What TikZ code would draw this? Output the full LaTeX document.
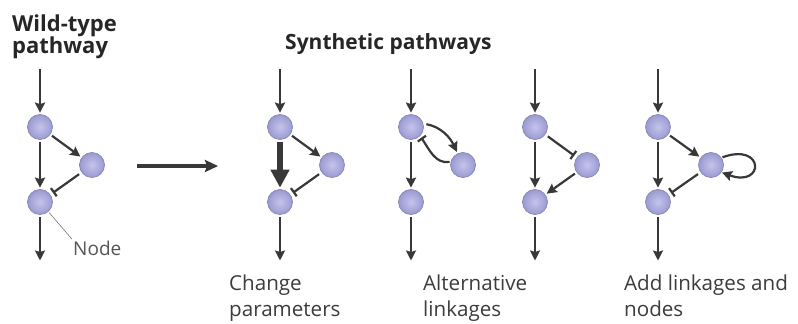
\documentclass[tikz,border=0pt]{standalone}
\usepackage{fontspec}
\setmainfont{Open Sans}
\usetikzlibrary{arrows.meta}
\definecolor{ink}{HTML}{383838}
\definecolor{txt}{HTML}{3C3C3C}
\definecolor{lbl}{HTML}{555555}
\definecolor{nodein}{HTML}{C4C4EC}
\definecolor{nodeout}{HTML}{9A9AD2}
\definecolor{nodeedge}{HTML}{8686B0}
\begin{document}
\begin{tikzpicture}[x=1pt,y=1pt,
  pnode/.style={circle, minimum size=25pt, inner sep=0pt, draw=nodeedge, line width=0.7pt, inner color=nodein, outer color=nodeout},
  arr/.style={draw=ink, line width=2.2pt, -{Stealth[length=10pt,width=10pt,inset=1.5pt]}, shorten >=1.5pt, shorten <=2pt},
  thickarr/.style={draw=ink, line width=6pt, -{Triangle[length=18pt,width=18pt]}, shorten >=1.5pt, shorten <=2pt},
  bigarr/.style={draw=ink, line width=3.5pt, -{Stealth[length=13pt,width=12pt,inset=2pt]}},
  inh/.style={draw=ink, line width=2.2pt, -{Bar[width=10pt,line width=2.2pt]}, shorten >=3pt, shorten <=3pt},
  leader/.style={draw=lbl!80, line width=0.6pt},
  titletxt/.style={anchor=base west, inner sep=0pt, font=\bfseries\fontsize{22}{22}\selectfont, text=black!85},
  syntxt/.style={anchor=base west, inner sep=0pt, font=\bfseries\fontsize{21}{22}\selectfont, text=black!85},
  captxt/.style={anchor=base west, inner sep=0pt, font=\fontsize{20.6}{24}\selectfont, text=txt},
  nlabel/.style={anchor=base west, inner sep=0pt, font=\fontsize{19}{22}\selectfont, text=lbl}]
\useasboundingbox (0,0) rectangle (798,-324);
\fill[white] (0,0) rectangle (798,-324);

% titles
\node[titletxt] (wt1) at (12,-31) {Wild-type};
\node[titletxt] (wt2) at (12,-53) {pathway};
\node[syntxt] (syn) at (285,-49) {Synthetic pathways};

% captions
\node[captxt] (c2a) at (229,-290) {Change};
\node[captxt] (c2b) at (229,-316) {parameters};
\node[captxt] (c3a) at (423,-290) {Alternative};
\node[captxt] (c3b) at (423,-316) {linkages};
\node[captxt] (c5a) at (624,-290) {Add linkages and};
\node[captxt] (c5b) at (624,-316) {nodes};

% wild-type
\node[pnode] (w1) at (40,-127) {};
\node[pnode] (w2) at (92,-165) {};
\node[pnode] (w3) at (40,-202) {};
\coordinate (wtop) at (40,-67);
\coordinate (wbot) at (40,-262);
\draw[arr] (wtop) -- (w1);
\draw[arr] (w1) -- (w3);
\draw[arr] (w3) -- (wbot);
\draw[arr] (w1) -- (w2);
\draw[inh] (w2) -- (w3);
\node[nlabel] (nl) at (73,-255) {Node};
\draw[leader, shorten <=1pt, shorten >=2pt] (w3) -- (nl.north west);

% big arrow
\coordinate (bs) at (137,-166);
\coordinate (be) at (218,-166);
\draw[bigarr] (bs) -- (be);

% panel 2: change parameters
\node[pnode] (a1) at (280,-127) {};
\node[pnode] (a2) at (332,-165) {};
\node[pnode] (a3) at (280,-202) {};
\coordinate (atop) at (280,-67);
\coordinate (abot) at (280,-262);
\draw[arr] (atop) -- (a1);
\draw[thickarr] (a1) -- (a3);
\draw[arr] (a3) -- (abot);
\draw[arr] (a1) -- (a2);
\draw[inh] (a2) -- (a3);

% panel 3: alternative linkages (a)
\node[pnode] (b1) at (411,-127) {};
\node[pnode] (b2) at (463,-165) {};
\node[pnode] (b3) at (411,-202) {};
\coordinate (btop) at (411,-67);
\coordinate (bbot) at (411,-262);
\draw[arr] (btop) -- (b1);
\draw[arr] (b1) -- (b3);
\draw[arr] (b3) -- (bbot);
\draw[arr, shorten <=3pt] (b1.15) to[out=-10, in=115] (b2.115);
\draw[inh, shorten <=1pt, shorten >=2pt] (b2.165) to[out=190, in=-55] (b1.-45);

% panel 4: alternative linkages (b)
\node[pnode] (p1) at (535,-127) {};
\node[pnode] (p2) at (587,-165) {};
\node[pnode] (p3) at (535,-202) {};
\coordinate (ptop) at (535,-67);
\coordinate (pbot) at (535,-262);
\draw[arr] (ptop) -- (p1);
\draw[arr] (p1) -- (p3);
\draw[arr] (p3) -- (pbot);
\draw[inh] (p1) -- (p2);
\draw[arr] (p2) -- (p3);

% panel 5: add linkages and nodes
\node[pnode] (d1) at (658,-127) {};
\node[pnode] (d2) at (711,-165) {};
\node[pnode] (d3) at (658,-202) {};
\coordinate (dtop) at (658,-67);
\coordinate (dbot) at (658,-262);
\draw[arr] (dtop) -- (d1);
\draw[arr] (d1) -- (d3);
\draw[arr] (d3) -- (dbot);
\draw[arr] (d1) -- (d2);
\draw[inh] (d2) -- (d3);
\draw[arr, shorten <=1pt, shorten >=0.5pt] (d2.35) .. controls +(20:46) and +(-20:46) .. (d2.-35);
\end{tikzpicture}
\end{document}
